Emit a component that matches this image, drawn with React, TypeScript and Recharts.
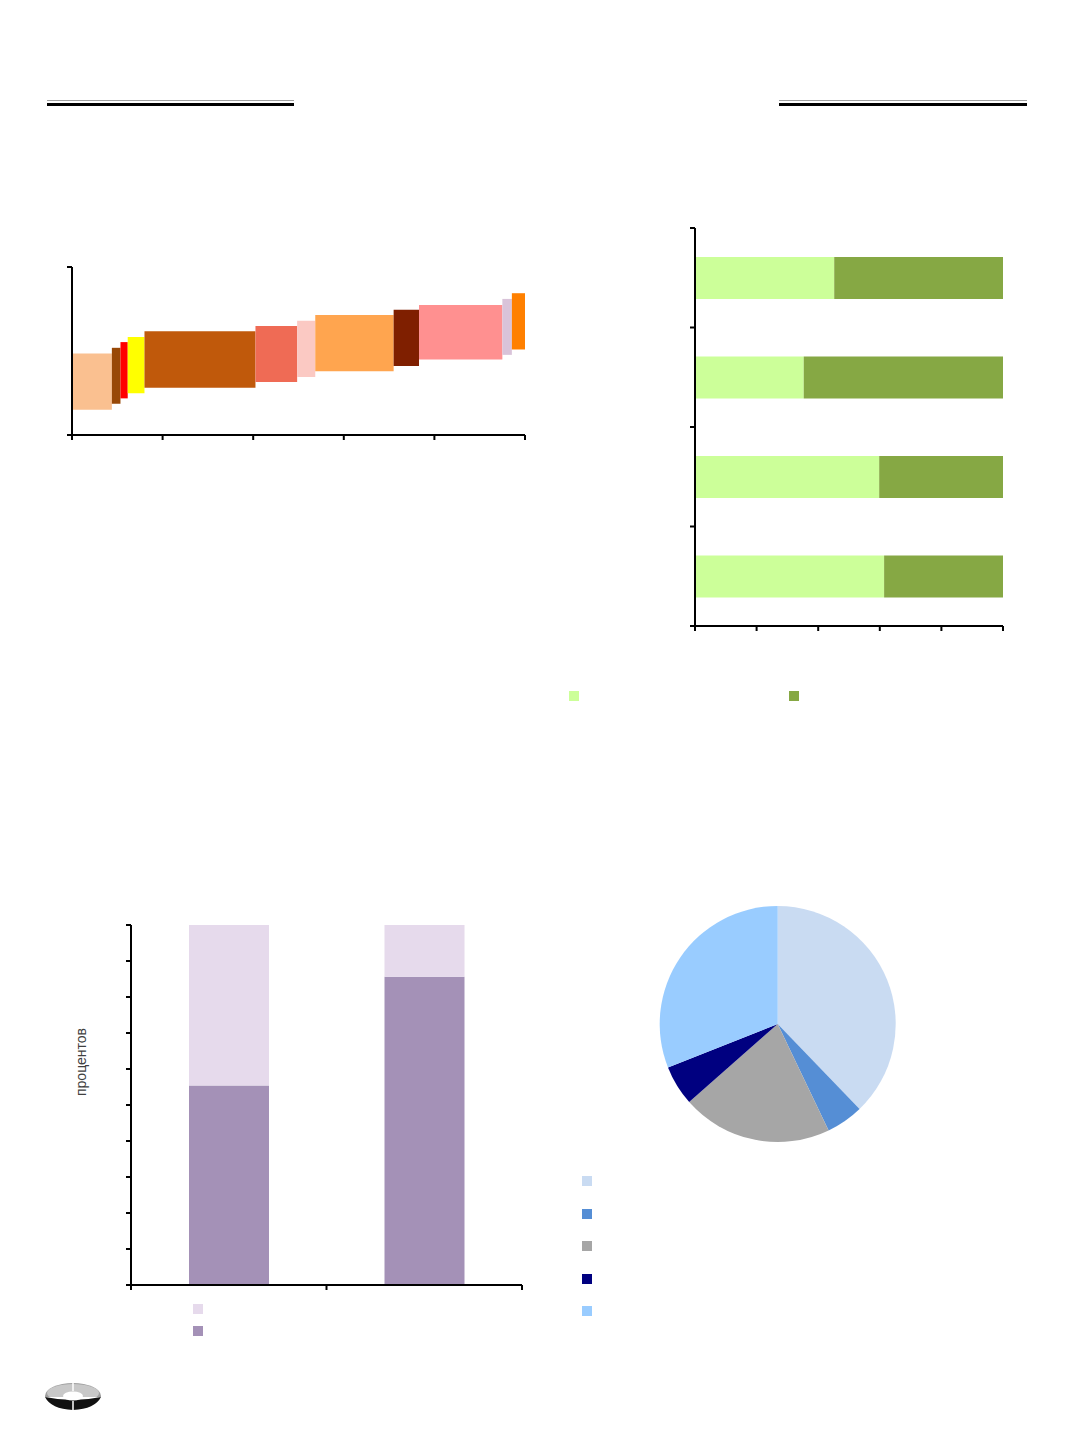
import { ComposedChart, BarChart, Bar, XAxis, YAxis, ReferenceArea, PieChart, Pie, Cell } from 'recharts'

// chart 1: variable-width floating bands
const bandStart = [0, 8.8, 10.7, 12.3, 16.0, 40.5, 49.7, 53.7, 71.0, 76.6, 95.0, 97.1]
const bandEnd = [8.8, 10.7, 12.3, 16.0, 40.5, 49.7, 53.7, 71.0, 76.6, 95.0, 97.1, 100]
const bandLow = [15.1, 18.6, 21.8, 24.9, 28.1, 31.5, 34.5, 37.9, 41.0, 45.0, 47.7, 50.9]
const bandHigh = [48.5, 51.9, 55.3, 58.3, 61.7, 64.9, 68.0, 71.4, 74.6, 77.4, 81.0, 84.4]
const bandColors = [
  '#FAC090', '#984807', '#FF0000', '#FFFF00', '#C0590B', '#EF6B55',
  '#FBC9C3', '#FFA54F', '#7F1F00', '#FF9090', '#D9C3D9', '#FF8000'
]
const bandTicksX = [0, 20, 40, 60, 80, 100]
const bandTicksY = [0, 100]

// chart 2: horizontal 100% stacked bars, top to bottom (category slots 0..4, boundaries ticked)
const hSlots = [0.5, 1.5, 2.5, 3.5]
const hLight = [45.2, 35.3, 59.8, 61.4]
const hDark = [54.8, 64.7, 40.2, 38.6]
const hTicks = [0, 20, 40, 60, 80, 100]
const hSlotTicks = [0, 1, 2, 3, 4]

// chart 3: vertical 100% stacked columns
const vSlots = [0.5, 1.5]
const vDark = [55.4, 85.6]
const vLight = [44.6, 14.4]
const vTicks = [0, 10, 20, 30, 40, 50, 60, 70, 80, 90, 100]
const vSlotTicks = [0, 1, 2]

// chart 4: pie
const pieNames = ['1', '2', '3', '4', '5']
const pieValues = [37.8, 5.1, 20.6, 5.5, 31.0]
const pieColors = ['#C9DBF2', '#558ED5', '#A6A6A6', '#000080', '#99CCFF']

const axisStyle = { stroke: '#000', strokeWidth: 2 }
const noLabel = () => <g />

const bandRows = bandStart.map((s, i) => ({ x1: s, x2: bandEnd[i], y1: bandLow[i], y2: bandHigh[i], color: bandColors[i] }))
const hRows = hSlots.map((slot, i) => ({ slot, light: hLight[i], dark: hDark[i] }))
const vRows = vSlots.map((slot, i) => ({ slot, dark: vDark[i], light: vLight[i] }))
const pieRows = pieNames.map((name, i) => ({ name, value: pieValues[i] }))

function Square({ x, y, color }: { x: number; y: number; color: string }) {
  return <div style={{ position: 'absolute', left: x, top: y, width: 10, height: 10, background: color }} />
}

function HeaderRule({ x, width }: { x: number; width: number }) {
  return (
    <>
      <div style={{ position: 'absolute', left: x, top: 100, width, height: 1, background: '#A0A0A0' }} />
      <div style={{ position: 'absolute', left: x, top: 103, width, height: 3, background: '#000' }} />
    </>
  )
}

function Logo() {
  return (
    <svg style={{ position: 'absolute', left: 43, top: 1381 }} width={60} height={32}>
      <defs>
        <clipPath id="top-half">
          <rect x={0} y={0} width={60} height={16} />
        </clipPath>
      </defs>
      <ellipse cx={30} cy={15} rx={28} ry={13} fill="#9E9E9E" clipPath="url(#top-half)" />
      <ellipse cx={30} cy={12} rx={26} ry={9} fill="#C8C8C8" clipPath="url(#top-half)" />
      <path d="M2 16 Q30 22 58 16 Q52 28 30 29 Q8 28 2 16 Z" fill="#111" />
      <ellipse cx={30} cy={15} rx={10} ry={4.5} fill="#fff" />
      <line x1={30} y1={1} x2={30} y2={10} stroke="#fff" strokeWidth={1.5} />
      <line x1={30} y1={20} x2={30} y2={30} stroke="#fff" strokeWidth={1.5} />
    </svg>
  )
}

export default function App() {
  return (
    <div
      style={{
        position: 'absolute', left: 0, top: 0, width: 1072, height: 1433, background: '#fff',
        fontFamily: '"Liberation Sans", Arial, sans-serif', overflow: 'hidden'
      }}
    >
      <HeaderRule x={47} width={247} />
      <HeaderRule x={779} width={248} />

      {/* chart 1 */}
      <div style={{ position: 'absolute', left: 40, top: 240 }}>
        <ComposedChart width={500} height={220} data={bandRows} margin={{ top: 27, right: 15, bottom: 24, left: 31 }}>
          <XAxis type="number" dataKey="x1" domain={[0, 100]} allowDataOverflow ticks={bandTicksX} tick={noLabel}
            tickSize={5} height={1} axisLine={axisStyle} tickLine={axisStyle} />
          <YAxis type="number" domain={[0, 100]} allowDataOverflow ticks={bandTicksY} tick={noLabel} tickSize={5}
            width={1} axisLine={axisStyle} tickLine={axisStyle} />
          {bandRows.map((r, i) => (
            <ReferenceArea key={i} x1={r.x1} x2={r.x2} y1={r.y1} y2={r.y2} fill={r.color} fillOpacity={1}
              stroke="none" ifOverflow="visible" />
          ))}
        </ComposedChart>
      </div>

      {/* chart 2 */}
      <div style={{ position: 'absolute', left: 660, top: 200 }}>
        <BarChart layout="vertical" width={370} height={450} data={hRows} barSize={42}
          margin={{ top: 28, right: 27, bottom: 23, left: 34 }}>
          <XAxis type="number" domain={[0, 100]} allowDataOverflow ticks={hTicks} tick={noLabel} tickSize={5}
            height={1} axisLine={axisStyle} tickLine={axisStyle} />
          <YAxis type="number" dataKey="slot" domain={[0, 4]} allowDataOverflow ticks={hSlotTicks}
            tick={noLabel} tickSize={5} width={1} axisLine={axisStyle} tickLine={axisStyle} />
          <Bar dataKey="light" stackId="s" fill="#CCFF99" isAnimationActive={false} />
          <Bar dataKey="dark" stackId="s" fill="#86A844" isAnimationActive={false} />
        </BarChart>
      </div>
      <Square x={569} y={691} color="#CCFF99" />
      <Square x={789} y={691} color="#86A844" />

      {/* chart 3 */}
      <div style={{ position: 'absolute', left: 60, top: 900 }}>
        <BarChart width={480} height={400} data={vRows} barSize={80}
          margin={{ top: 25, right: 18, bottom: 14, left: 70 }}>
          <XAxis type="number" dataKey="slot" domain={[0, 2]} allowDataOverflow ticks={vSlotTicks} tick={noLabel}
            tickSize={5} height={1} axisLine={axisStyle} tickLine={axisStyle} />
          <YAxis type="number" domain={[0, 100]} allowDataOverflow ticks={vTicks} tick={noLabel} tickSize={5}
            width={1} axisLine={axisStyle} tickLine={axisStyle} />
          <Bar dataKey="dark" stackId="s" fill="#A491B7" isAnimationActive={false} />
          <Bar dataKey="light" stackId="s" fill="#E6DAEC" isAnimationActive={false} />
        </BarChart>
      </div>
      <div
        style={{
          position: 'absolute', left: 81, top: 1062, fontSize: 14, color: '#404040', whiteSpace: 'nowrap',
          transform: 'translate(-50%, -50%) rotate(-90deg)'
        }}
      >
        процентов
      </div>
      <Square x={193} y={1304} color="#E6DAEC" />
      <Square x={193} y={1326} color="#A491B7" />

      {/* chart 4 */}
      <div style={{ position: 'absolute', left: 640, top: 890 }}>
        <PieChart width={280} height={270}>
          <Pie data={pieRows} dataKey="value" nameKey="name" cx={132.7} cy={129} outerRadius={118}
            startAngle={90} endAngle={-270} stroke="none" isAnimationActive={false}>
            {pieRows.map((r, i) => (
              <Cell key={r.name} fill={pieColors[i]} />
            ))}
          </Pie>
        </PieChart>
      </div>
      {pieColors.map((c, i) => (
        <Square key={c} x={582} y={1176 + i * 32.5} color={c} />
      ))}

      <Logo />
    </div>
  )
}
